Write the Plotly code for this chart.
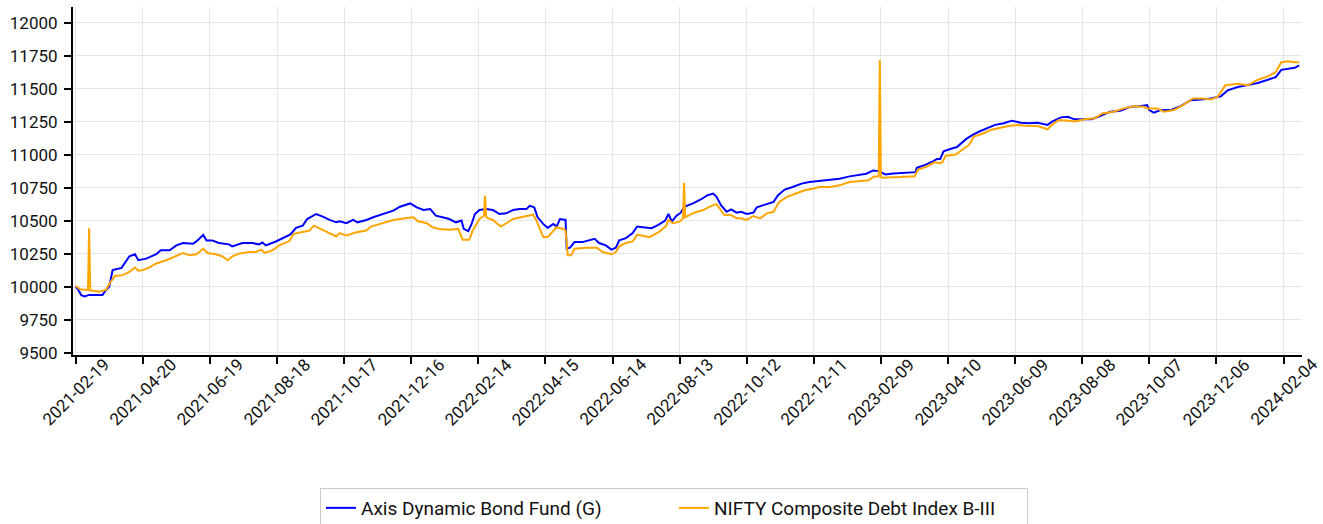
import pandas as pd
import plotly.graph_objects as go

START = "2021-02-19"

# Axis Dynamic Bond Fund (G): day offsets from START and values
fund_days = [0, 2, 5, 8, 12, 24, 26, 30, 33, 41, 48, 53, 56, 63, 72, 76, 84, 90, 96, 105,
             109, 114, 117, 122, 128, 137, 140, 143, 149, 158, 164, 167, 170, 179, 188, 192,
             197, 203, 207, 215, 221, 227, 233,
             236, 242, 248, 252, 260, 266, 275, 284, 290, 296, 299, 305, 311, 317, 322, 328,
             334, 340, 345, 347, 351, 354, 357, 361, 367, 373, 379, 385, 391, 397, 403, 406,
             410, 413, 418, 422, 427, 430, 433, 438, 439, 442, 446, 453, 459, 464, 468, 474,
             479, 483,
             486, 492, 498, 502, 507, 515, 521, 527, 530, 533, 537, 541, 544, 552, 559, 565,
             570, 573, 577, 582, 586, 591, 595, 600, 606, 609, 615, 624, 628, 634, 641, 649,
             656, 665, 674, 683, 692, 701, 707, 713, 718,
             720, 724, 731, 740, 748, 751, 752, 758, 767, 770, 773, 776, 782, 788, 796, 802,
             808, 815, 822, 830, 837, 845, 852, 860, 869, 873, 881, 887, 893, 899, 908, 916,
             925, 934, 943, 951, 958, 960, 964, 970, 979, 988, 997, 1006, 1015, 1024, 1030,
             1039, 1048, 1057, 1066, 1073, 1078, 1084, 1090, 1094]
fund_values = [10000, 9980, 9935, 9925, 9937, 9937, 9962, 10000, 10125, 10142, 10230, 10245,
               10200, 10212, 10245, 10275, 10275, 10312, 10330, 10325, 10350, 10392, 10350,
               10350, 10330, 10320, 10305, 10312, 10330, 10330, 10320, 10335, 10312, 10342,
               10375, 10395, 10445, 10462, 10512, 10550, 10530, 10505, 10487,
               10495, 10480, 10505, 10487, 10505, 10525, 10550, 10575, 10605, 10620, 10630,
               10600, 10580, 10587, 10537, 10525, 10512, 10487, 10500, 10437, 10420, 10475,
               10550, 10580, 10587, 10580, 10550, 10555, 10580, 10587, 10587, 10612, 10600,
               10525, 10475, 10445, 10475, 10455, 10512, 10505, 10287, 10295, 10337, 10337,
               10350, 10362, 10330, 10312, 10280, 10295,
               10350, 10367, 10405, 10455, 10450, 10442, 10467, 10500, 10550, 10492, 10535,
               10560, 10605, 10630, 10660, 10692, 10705, 10680, 10617, 10567, 10585, 10560,
               10567, 10550, 10560, 10600, 10617, 10642, 10692, 10735, 10755, 10780, 10792,
               10800, 10805, 10817, 10835, 10850, 10855, 10880, 10875,
               10867, 10850, 10857, 10862, 10862, 10867, 10900, 10917, 10950, 10967, 10967,
               11025, 11042, 11057, 11117, 11150, 11175, 11200, 11225, 11237, 11257, 11242,
               11237, 11242, 11225, 11250, 11282, 11287, 11267, 11267, 11267, 11292, 11325,
               11332, 11362, 11367, 11375, 11337, 11317, 11337, 11337, 11367, 11412, 11417,
               11425, 11442, 11487, 11512, 11525, 11542, 11567, 11587, 11642, 11650, 11657,
               11675]

# NIFTY Composite Debt Index B-III
index_days = [0, 4, 11, 12, 13, 21, 27, 30, 35, 42, 48, 53, 56, 60, 66, 72, 81, 87, 96, 102,
              108, 114, 118, 125, 131, 136, 140, 146, 155, 161, 166, 169, 176, 182, 191, 195,
              203, 209, 213, 221, 227, 233,
              236, 242, 251, 260, 264, 275, 284, 296, 302, 306, 314, 319, 325, 334, 342, 346,
              352, 355, 361, 365, 366, 367, 368, 373, 380, 385, 391, 398, 406, 409, 412, 415,
              418, 422, 427, 430, 436, 438, 440, 443, 446, 457, 466, 471, 479, 483,
              486, 492, 498, 502, 507, 513, 522, 528, 530, 534, 540, 543, 544, 545, 546, 553,
              561, 568, 573, 576, 580, 586, 591, 595, 600, 606, 612, 618, 624, 629, 636, 644,
              652, 659, 665, 674, 683, 692, 701, 709, 714, 718, 719, 720,
              721, 728, 737, 746, 750, 753, 761, 768, 773, 775, 778, 787, 793, 799, 803, 812,
              818, 827, 834, 842, 851, 860, 869, 873, 879, 888, 893, 902, 911, 918, 928, 937,
              946, 955, 958, 967, 973, 982, 990, 999, 1008, 1015, 1021, 1028, 1039, 1048,
              1057, 1066, 1073, 1078, 1084, 1090, 1094]
index_values = [10005, 9980, 9975, 10442, 9972, 9962, 9975, 10020, 10080, 10087, 10112, 10145,
                10120, 10125, 10145, 10175, 10200, 10220, 10255, 10237, 10245, 10287, 10255,
                10245, 10230, 10200, 10230, 10250, 10262, 10262, 10280, 10255, 10275, 10312,
                10345, 10400, 10412, 10425, 10462, 10430, 10405, 10380,
                10405, 10387, 10412, 10425, 10455, 10480, 10505, 10520, 10525, 10495, 10480,
                10450, 10437, 10430, 10437, 10355, 10355, 10425, 10512, 10537, 10690, 10530,
                10520, 10505, 10455, 10480, 10512, 10525, 10537, 10545, 10500, 10437, 10375,
                10375, 10425, 10450, 10437, 10425, 10237, 10237, 10287, 10295, 10295, 10262,
                10245, 10262,
                10305, 10330, 10342, 10392, 10385, 10375, 10417, 10460, 10505, 10480, 10492,
                10517, 10784, 10525, 10530, 10560, 10580, 10610, 10625, 10585, 10542, 10542,
                10517, 10517, 10505, 10535, 10517, 10555, 10567, 10642, 10680, 10705, 10730,
                10742, 10755, 10755, 10767, 10792, 10800, 10805, 10835, 10835, 11715, 10830,
                10825, 10825, 10830, 10835, 10835, 10885, 10910, 10942, 10935, 10942, 10992,
                11000, 11037, 11075, 11137, 11162, 11187, 11207, 11217, 11225, 11217, 11217,
                11192, 11225, 11262, 11257, 11250, 11267, 11275, 11312, 11325, 11350, 11367,
                11362, 11350, 11350, 11325, 11337, 11375, 11425, 11425, 11417, 11437, 11525,
                11537, 11525, 11567, 11592, 11625, 11700, 11707, 11700, 11700]

tick_labels = ["2021-02-19", "2021-04-20", "2021-06-19", "2021-08-18", "2021-10-17",
               "2021-12-16", "2022-02-14", "2022-04-15", "2022-06-14", "2022-08-13",
               "2022-10-12", "2022-12-11", "2023-02-09", "2023-04-10", "2023-06-09",
               "2023-08-08", "2023-10-07", "2023-12-06", "2024-02-04"]
y_ticks = [9500, 9750, 10000, 10250, 10500, 10750, 11000, 11250, 11500, 11750, 12000]

start = pd.Timestamp(START)
fund_dates = start + pd.to_timedelta(fund_days, unit="D")
index_dates = start + pd.to_timedelta(index_days, unit="D")
tick_dates = pd.to_datetime(tick_labels)

fig = go.Figure()
fig.add_trace(go.Scatter(x=fund_dates, y=fund_values, mode="lines",
                         name="Axis Dynamic Bond Fund (G)",
                         line=dict(color="#0000ff", width=2)))
fig.add_trace(go.Scatter(x=index_dates, y=index_values, mode="lines",
                         name="NIFTY Composite Debt Index B-III",
                         line=dict(color="#ffa500", width=2)))

# x tick labels centred under their ticks and rotated 45 degrees
for d, lab in zip(tick_dates, tick_labels):
    fig.add_annotation(x=d, y=-0.106, xref="x", yref="paper", text=lab,
                       showarrow=False, textangle=-45, xanchor="center",
                       yanchor="middle", font=dict(size=17, color="#111111"))

font_family = "Roboto, Arial, sans-serif"
fig.update_layout(
    width=1323, height=524,
    margin=dict(l=73, r=21, t=7, b=169, autoexpand=False),
    plot_bgcolor="white", paper_bgcolor="white",
    font=dict(family=font_family, size=17, color="#111111"),
    showlegend=True,
    legend=dict(orientation="h", x=0.489, xanchor="center",
                yref="container", y=0.0687, yanchor="top",
                bordercolor="#cccccc", borderwidth=1, font=dict(size=19),
                bgcolor="white", entrywidth=308, entrywidthmode="pixels"),
)
fig.update_xaxes(
    range=[pd.Timestamp("2021-02-16 14:00"), pd.Timestamp("2024-02-20 12:00")],
    tickmode="array", tickvals=tick_dates, showticklabels=False,
    ticks="outside", ticklen=7, tickwidth=1.5, tickcolor="black",
    showline=True, linecolor="black", linewidth=2,
    showgrid=True, gridcolor="#e6e6e6", gridwidth=1, zeroline=False,
    automargin=False,
)
fig.update_yaxes(
    range=[9482, 12118],
    tickmode="array", tickvals=y_ticks, ticktext=[str(v) for v in y_ticks],
    ticks="outside", ticklen=7, tickwidth=1.5, tickcolor="black",
    showline=True, linecolor="black", linewidth=2,
    showgrid=True, gridcolor="#e6e6e6", gridwidth=1, zeroline=False,
    tickfont=dict(size=17), automargin=False, ticklabelstandoff=3,
)

fig.write_html("out.html", config={"displayModeBar": False},
               post_script="document.body.style.margin='0';document.body.style.padding='0';")
